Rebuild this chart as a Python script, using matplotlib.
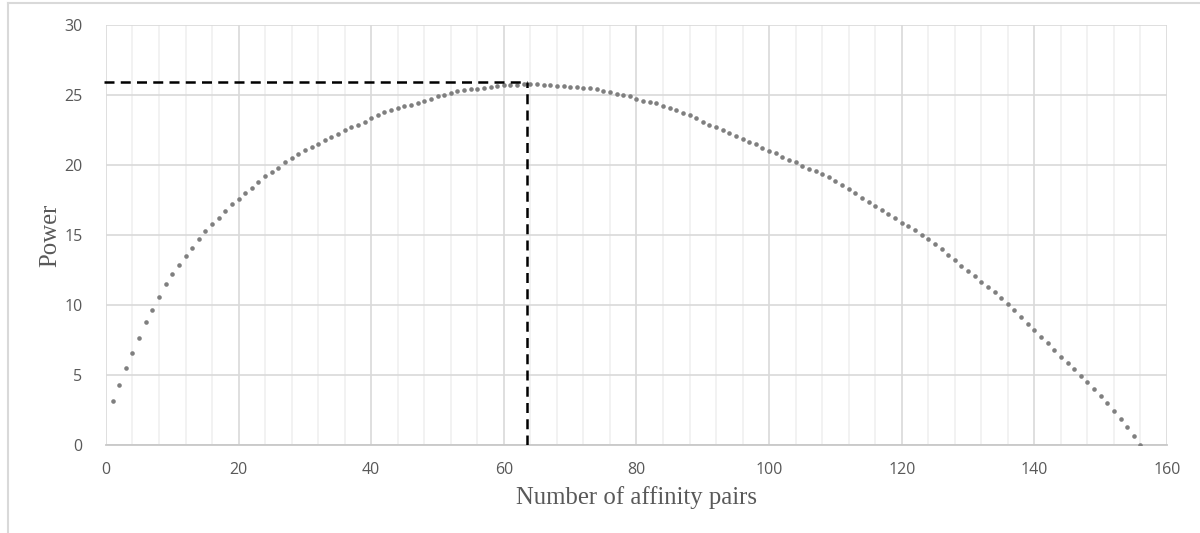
import matplotlib.pyplot as plt
from matplotlib.lines import Line2D
import numpy as np

# power for 1..156 affinity pairs
pairs = list(range(1, 157))
power = [
    3.14, 4.28, 5.5, 6.6, 7.7, 8.8, 9.7, 10.6, 11.5, 12.2,
    12.9, 13.5, 14.1, 14.7, 15.3, 15.8, 16.2, 16.7, 17.2, 17.6,
    18.0, 18.4, 18.8, 19.2, 19.5, 19.8, 20.2, 20.5, 20.8, 21.1,
    21.3, 21.5, 21.8, 22.0, 22.2, 22.5, 22.7, 22.9, 23.1, 23.4,
    23.6, 23.8, 23.9, 24.1, 24.2, 24.3, 24.4, 24.6, 24.75, 24.9,
    25.0, 25.15, 25.3, 25.35, 25.4, 25.45, 25.5, 25.6, 25.65, 25.7,
    25.75, 25.75, 25.8, 25.8, 25.78, 25.73, 25.7, 25.68, 25.63, 25.6,
    25.56, 25.53, 25.5, 25.46, 25.3, 25.2, 25.06, 25.0, 24.9, 24.75,
    24.56, 24.5, 24.4, 24.25, 24.1, 23.9, 23.75, 23.56, 23.35, 23.1,
    22.9, 22.7, 22.5, 22.3, 22.1, 21.9, 21.66, 21.5, 21.25, 21.04,
    20.9, 20.57, 20.4, 20.2, 19.97, 19.76, 19.57, 19.36, 19.14, 18.9,
    18.55, 18.29, 18.0, 17.67, 17.38, 17.1, 16.8, 16.5, 16.24, 15.9,
    15.63, 15.36, 15.03, 14.74, 14.39, 14.0, 13.6, 13.25, 12.84, 12.44,
    12.1, 11.68, 11.34, 10.94, 10.53, 10.1, 9.66, 9.18, 8.7, 8.23,
    7.75, 7.28, 6.8, 6.33, 5.92, 5.45, 4.97, 4.5, 4.02, 3.54,
    3.0, 2.45, 1.9, 1.31, 0.69, 0.07,
]
# optimum marked by the dashed lines
best_x = 63.5
best_y = 25.9

fig = plt.figure(figsize=(12, 5.33), dpi=100)
ax = fig.add_axes([0.0883, 0.1642, 0.8842, 0.7889])

# light frame around the whole chart (cut off at right and bottom)
fig.add_artist(Line2D([8 / 1200, 8 / 1200], [0, 1 - 3 / 533], color='#d9d9d9', lw=1.5))
fig.add_artist(Line2D([8 / 1200, 1], [1 - 3 / 533, 1 - 3 / 533], color='#d9d9d9', lw=1.5))

ax.plot(pairs, power, linestyle='none', marker='o', markersize=3.3,
        color='#7f7f7f', markeredgewidth=0, zorder=3)

ax.plot([-0.3, best_x], [best_y, best_y], color='black', lw=1.8,
        dashes=(4, 2.5), clip_on=False, zorder=4)
ax.plot([best_x, best_x], [0, best_y], color='black', lw=1.8,
        dashes=(4, 2.5), zorder=4)

ax.set_xlim(0, 160)
ax.set_ylim(0, 30)
ax.set_xticks(np.arange(0, 161, 20))
ax.set_xticks(np.arange(0, 161, 4), minor=True)
ax.set_yticks(np.arange(0, 31, 5))

ax.grid(which='major', color='#d9d9d9', lw=1.2)
ax.grid(which='minor', axis='x', color='#f0f0f0', lw=1.2)
ax.set_axisbelow(True)

for s in ['top', 'right', 'left']:
    ax.spines[s].set_visible(False)
ax.spines['bottom'].set_color('#c8c8c8')
ax.spines['bottom'].set_linewidth(1.3)

ax.tick_params(which='both', length=0)
ax.tick_params(axis='y', pad=17)
ax.tick_params(axis='x', pad=12)
for lab in ax.get_xticklabels() + ax.get_yticklabels():
    lab.set_fontfamily('Open Sans')
    lab.set_fontsize(11.5)
    lab.set_color('#595959')

ax.set_xlabel('Number of affinity pairs', family='Liberation Serif',
              fontsize=17.8, color='#595959', labelpad=6)
ax.set_ylabel('Power', family='Liberation Serif', fontsize=17.8,
              color='#595959', labelpad=2)

fig.savefig('out.png', dpi=100)
